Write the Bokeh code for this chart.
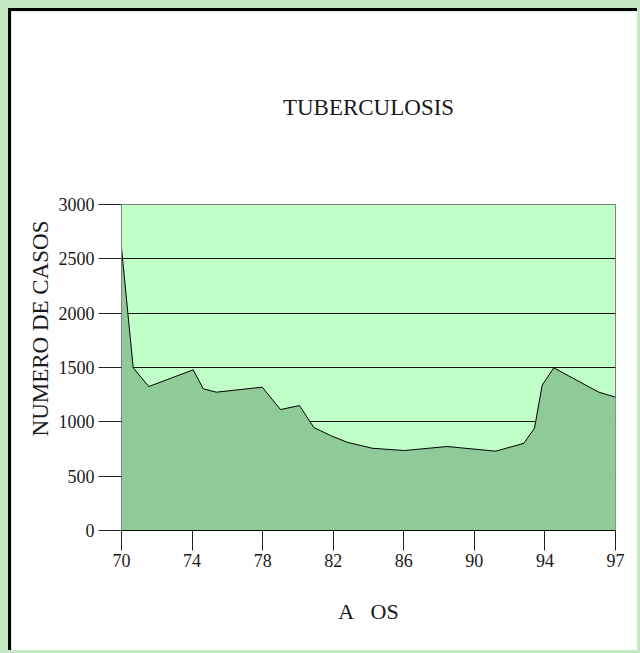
from bokeh.plotting import figure
from bokeh.models import Range1d, FixedTicker, Title, GlobalInlineStyleSheet
from bokeh.embed import file_html
from bokeh.resources import INLINE

# x positions in tick-slot units (0 = "70", 7 = "97")
x_pos = [0.0, 0.166, 0.387, 1.016, 1.158, 1.346, 1.994, 2.253, 2.522, 2.725,
         2.962, 3.198, 3.552, 4.010, 4.615, 5.300, 5.701, 5.852, 5.961, 6.125,
         6.763, 7.0]
casos = [2600, 1497, 1325, 1479, 1304, 1273, 1319, 1113, 1150, 948,
         874, 812, 757, 736, 773, 730, 802, 941, 1337, 1497,
         1273, 1227]
tick_pos = [0, 1, 2, 3, 4, 5, 6, 7]
tick_labels = ["70", "74", "78", "82", "86", "90", "94", "97"]
y_ticks = [0, 500, 1000, 1500, 2000, 2500, 3000]

FONT = "Liberation Serif"
TXT = "#1a1a1a"

p = figure(width=629, height=642, output_backend="svg", toolbar_location=None,
           x_range=Range1d(0, 7), y_range=Range1d(0, 3000),
           min_border_left=110, min_border_right=25,
           min_border_top=193, min_border_bottom=123)
p.styles = {"border-top": "3px solid black", "border-left": "3px solid black",
            "margin-left": "8px", "margin-top": "8px"}
p.stylesheets = [GlobalInlineStyleSheet(
    css="html, body { background: #c5e8c5; overflow: hidden; }")]
p.border_fill_color = "white"
p.background_fill_color = "#c0ffc8"
p.outline_line_color = "#808080"
p.outline_line_width = 1

p.title.text = "TUBERCULOSIS"
p.title.align = "center"
p.title.vertical_align = "top"
p.title.text_font = FONT
p.title.text_font_size = "23px"
p.title.text_font_style = "normal"
p.title.text_color = TXT
p.title.standoff = 165

p.xgrid.visible = False
p.ygrid.grid_line_color = "#111111"
p.ygrid.grid_line_width = 1
p.ygrid.ticker = FixedTicker(ticks=y_ticks)

p.varea(x=x_pos, y1=0, y2=casos, fill_color="#8ecb98", fill_alpha=1)
p.line(x=x_pos, y=casos, line_color="black", line_width=1)

xa = p.xaxis[0]
xa.ticker = FixedTicker(ticks=tick_pos)
xa.major_label_overrides = {t: l for t, l in zip(tick_pos, tick_labels)}
xa.axis_line_color = "black"
xa.major_tick_line_color = "#222222"
xa.major_tick_out = 20
xa.major_tick_in = 0
xa.minor_tick_line_color = None
xa.major_label_standoff = 3
xa.major_label_text_font = FONT
xa.major_label_text_font_size = "18px"
xa.major_label_text_color = TXT
xa.axis_label = "A\u00a0\u00a0\u00a0OS"
xa.axis_label_standoff = 29
xa.axis_label_text_font = FONT
xa.axis_label_text_font_size = "22px"
xa.axis_label_text_font_style = "normal"
xa.axis_label_text_color = TXT

ya = p.yaxis[0]
ya.ticker = FixedTicker(ticks=y_ticks)
ya.axis_line_color = "#808080"
ya.major_tick_line_color = "#222222"
ya.major_tick_out = 23
ya.major_tick_in = 0
ya.minor_tick_line_color = None
ya.major_label_standoff = 4
ya.major_label_text_font = FONT
ya.major_label_text_font_size = "18px"
ya.major_label_text_color = TXT

ylab = Title(text="NUMERO DE CASOS", align="right", offset=16, standoff=5,
             text_font=FONT, text_font_size="23px", text_font_style="normal",
             text_color=TXT)
p.add_layout(ylab, "left")

open("out.html", "w").write(file_html(p, INLINE))
